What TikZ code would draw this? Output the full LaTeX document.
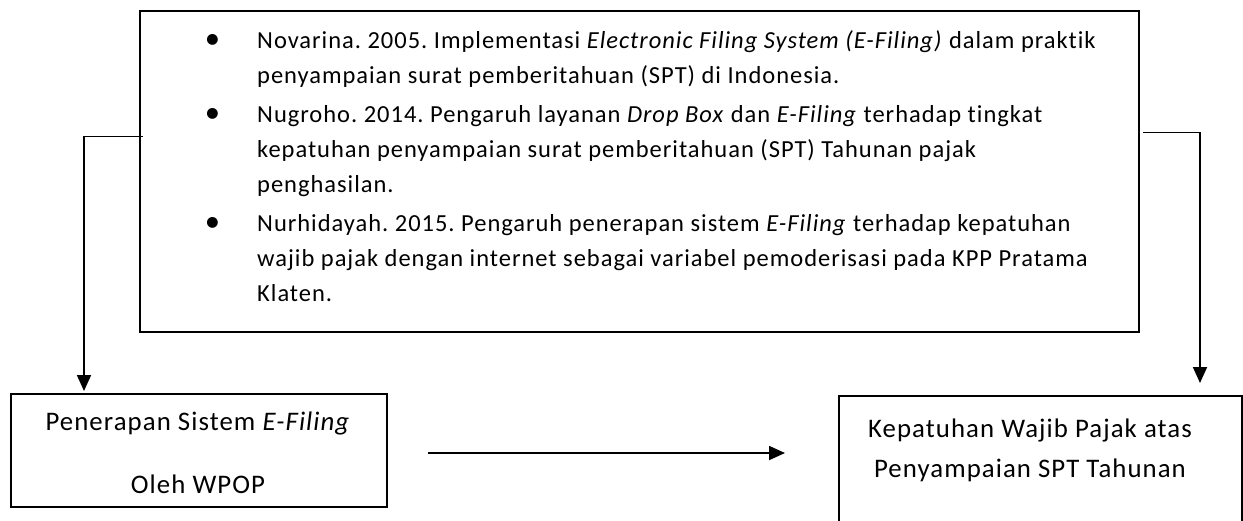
\documentclass[tikz,border=0pt]{standalone}
\usepackage{fontspec}
\setmainfont{Carlito}[Ligatures=NoCommon, LetterSpace=4]
\frenchspacing
\usetikzlibrary{arrows.meta}
\newcommand{\refbullet}{\llap{\raisebox{-0.5pt}{\scalebox{1.25}{\textbullet}}\hspace{37pt}}}
\begin{document}
\begin{tikzpicture}[x=1pt,y=-1pt,
  box/.style={draw, line width=2pt, inner sep=0pt},
  thinconn/.style={line width=1pt},
  arr/.style={line width=1.8pt, -{Triangle[length=16pt,width=14pt]}},
  txt/.style={inner sep=0pt, font=\fontsize{24.5}{35}\selectfont},
  btxt/.style={inner sep=0pt, font=\fontsize{26.8}{35}\selectfont}]
\clip (0,0) rectangle (1243,520);
% boxes
\node[box, anchor=north west, minimum width=999pt, minimum height=321pt] (top) at (139,10) {};
\node[box, anchor=north west, minimum width=376pt, minimum height=113pt] (lbox) at (10,393) {};
\node[box, anchor=north west, minimum width=403pt, minimum height=160pt] (rbox) at (838,395) {};
% reference list
\node[txt, anchor=base west] (refs) at (257,48) {%
\begin{tabular}[t]{@{}l@{}}
\refbullet Novarina. 2005. Implementasi \textit{Electronic Filing System (E-Filing)} dalam praktik\\
penyampaian surat pemberitahuan (SPT) di Indonesia.\\[4pt]
\refbullet Nugroho. 2014. Pengaruh layanan \textit{Drop Box} dan \textit{E-Filing} terhadap tingkat\\
kepatuhan penyampaian surat pemberitahuan (SPT) Tahunan pajak\\
penghasilan.\\[4pt]
\refbullet Nurhidayah. 2015. Pengaruh penerapan sistem \textit{E-Filing} terhadap kepatuhan\\
wajib pajak dengan internet sebagai variabel pemoderisasi pada KPP Pratama\\
Klaten.
\end{tabular}};
% bottom texts
\node[btxt, anchor=base] (l1) at (198,430) {Penerapan Sistem \textit{E-Filing}};
\node[btxt, anchor=base] (l2) at (198,493) {Oleh WPOP};
\node[btxt, anchor=base] (r1) at (1030,437) {Kepatuhan Wajib Pajak atas};
\node[btxt, anchor=base] (r2) at (1030,477) {Penyampaian SPT Tahunan};
% connectors
\coordinate (la) at (143,136);
\coordinate (lb) at (84,136);
\coordinate (lc) at (84,391);
\coordinate (ra) at (1143,132);
\coordinate (rb) at (1200,132);
\coordinate (rc) at (1200,383);
\coordinate (ma) at (428,453);
\coordinate (mb) at (785,453);
\draw[thinconn] (la) -- (lb);
\draw[arr] (lb) -- (lc);
\draw[thinconn] (ra) -- (rb);
\draw[arr] (rb) -- (rc);
\draw[arr] (ma) -- (mb);
\end{tikzpicture}
\end{document}
